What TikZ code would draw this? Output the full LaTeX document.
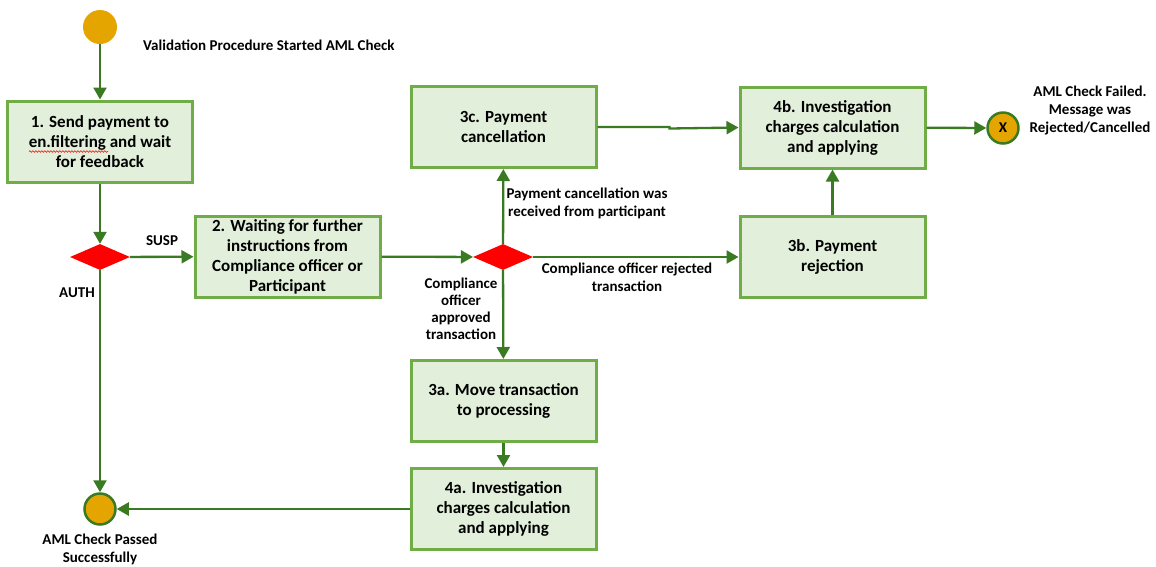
\documentclass[tikz,border=0pt]{standalone}
\usepackage{fontspec}
\setmainfont{Carlito}
\usetikzlibrary{shapes.geometric,arrows.meta,decorations.pathmorphing}
\definecolor{boxfill}{HTML}{E2EFDA}
\definecolor{boxline}{HTML}{70AD47}
\definecolor{arr}{HTML}{3A7A22}
\definecolor{gold}{HTML}{E5A500}
\definecolor{dred}{HTML}{FF0000}
\tikzset{
  stepbox/.style={draw=boxline, line width=3pt, fill=boxfill, minimum width=185pt, minimum height=81pt, align=center, font=\fontsize{17}{20}\selectfont\bfseries, inner sep=2pt},
  decis/.style={shape=diamond, fill=dred, draw=none, inner sep=0pt, minimum width=60pt, minimum height=26pt},
  startev/.style={circle, fill=gold, draw=none, minimum size=34pt, inner sep=0pt},
  endev/.style={circle, fill=gold, draw=arr, line width=2.5pt, minimum size=31pt, inner sep=0pt, font=\fontsize{15}{18}\selectfont\bfseries},
  lbl/.style={align=center, font=\fontsize{15}{18}\selectfont\bfseries, inner sep=0pt},
  flow/.style={draw=arr, line width=2.3pt, -{Triangle[width=13pt,length=12pt]}},
  squiggle/.style={draw=red!85, line width=0.7pt, decorate, decoration={snake, amplitude=0.8pt, segment length=3pt}},
}
\begin{document}
\begin{tikzpicture}[x=1pt,y=-1pt]
\useasboundingbox (0,0) rectangle (1156,566);
\node[startev] (start) at (100,27) {};
\node[stepbox] (b1) at (100,141.5) {1. Send payment to\\en.filtering and wait\\for feedback};
\node[decis] (d1) at (100,257) {};
\node[stepbox] (b2) at (287.5,256.5) {2. Waiting for further\\instructions from\\Compliance officer or\\Participant};
\node[decis] (d2) at (503,257) {};
\node[stepbox] (b3c) at (503.5,127) {3c. Payment\\cancellation};
\node[stepbox] (b4b) at (832.5,127.5) {4b. Investigation\\charges calculation\\and applying};
\node[stepbox] (b3b) at (832.5,257) {3b. Payment\\rejection};
\node[endev] (fail) at (1003,128) {X};
\node[stepbox] (b3a) at (503.5,401) {3a. Move transaction\\to processing};
\node[stepbox] (b4a) at (503.5,509) {4a. Investigation\\charges calculation\\and applying};
\node[endev] (pass) at (100,509) {};

\coordinate (sqa) at (29,151.5);
\coordinate (sqb) at (108,151.5);
\draw[squiggle] (sqa) -- (sqb);

\node[lbl, anchor=west] (lstart) at (143,45) {Validation Procedure Started AML Check};
\node[lbl] (lsusp) at (162,241) {SUSP};
\node[lbl] (lauth) at (77,293) {AUTH};
\node[lbl] (lcanc) at (587,203) {Payment cancellation was\\received from participant};
\node[lbl] (lrej) at (627,277) {Compliance officer rejected\\transaction};
\node[lbl, font=\fontsize{15}{17}\selectfont\bfseries] (lappr) at (461,309) {Compliance\\officer\\approved\\transaction};
\node[lbl] (lfail) at (1090,110) {AML Check Failed.\\Message was\\Rejected/Cancelled};
\node[lbl] (lpass) at (100,549) {AML Check Passed\\Successfully};

\draw[flow] (start) -- (b1);
\draw[flow] (b1) -- (d1);
\draw[flow] (d1) -- (b2);
\draw[flow] (d1) -- (pass);
\draw[flow] (b2) -- (d2);
\draw[flow] (d2) -- (b3c);
\draw[flow] (d2) -- (b3b);
\draw[flow] (d2) -- (b3a);
\draw[flow] (b3c.east) -- ++(72,0) -- ++(0,1.5) -- (b4b.west);
\draw[flow] (b3b) -- (b4b);
\draw[flow] (b4b) -- (fail);
\draw[flow] (b3a) -- (b4a);
\draw[flow] (b4a) -- (pass);
\end{tikzpicture}
\end{document}
